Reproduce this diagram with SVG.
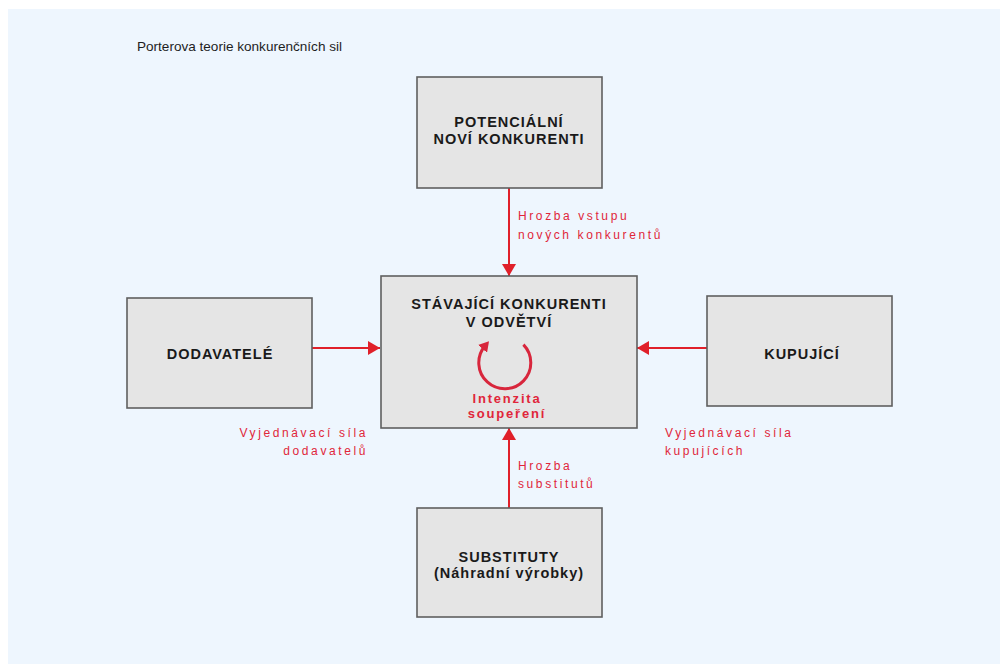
<svg xmlns="http://www.w3.org/2000/svg" width="1000" height="664" viewBox="0 0 1000 664">
  <style>
    .box { fill: #e5e5e5; stroke: #5f5f5f; stroke-width: 1.6; }
    .nt { font-family: "Liberation Sans", Arial, sans-serif; font-weight: bold; font-size: 14.5px; fill: #1a1a1a; text-anchor: middle; letter-spacing: 1px; }
    .lbl { font-family: "Liberation Sans", Arial, sans-serif; font-size: 12px; fill: #e0263a; letter-spacing: 2.6px; }
    .lblb { font-family: "Liberation Sans", Arial, sans-serif; font-weight: bold; font-size: 13px; fill: #e0263a; text-anchor: middle; letter-spacing: 1.8px; }
    .conn { stroke: #e0202a; stroke-width: 2; fill: none; marker-end: url(#ah); }
    .title { font-family: "Liberation Sans", Arial, sans-serif; font-size: 13px; fill: #1e1e1e; }
  </style>
  <defs>
    <marker id="ah" viewBox="0 0 12 14" refX="12" refY="7" markerWidth="12" markerHeight="14" markerUnits="userSpaceOnUse" orient="auto">
      <path d="M0,0 L12,7 L0,14 Z" fill="#e0202a"/>
    </marker>
    <marker id="ahc" viewBox="0 0 10 12" refX="4" refY="6" markerWidth="10" markerHeight="12" markerUnits="userSpaceOnUse" orient="auto">
      <path d="M0,0 L10,6 L0,12 Z" fill="#d8263c"/>
    </marker>
  </defs>

  <rect x="0" y="0" width="1000" height="664" fill="#ffffff"/>
  <rect x="8" y="9" width="992" height="655" fill="#eef6fe"/>

  <text class="title" x="137" y="51" textLength="205" lengthAdjust="spacingAndGlyphs">Porterova teorie konkurenčních sil</text>

  <g id="connectors">
    <line class="conn" x1="509" y1="188" x2="509" y2="276"/>
    <line class="conn" x1="312" y1="348" x2="380" y2="348"/>
    <line class="conn" x1="707" y1="348" x2="637" y2="348"/>
    <line class="conn" x1="509" y1="508" x2="509" y2="428"/>
  </g>

  <g id="potencialni">
    <rect class="box" x="417" y="77" width="185" height="111"/>
    <text class="nt" x="509" y="127">POTENCIÁLNÍ</text>
    <text class="nt" x="509" y="144">NOVÍ KONKURENTI</text>
  </g>

  <g id="stavajici">
    <rect class="box" x="381" y="276" width="256" height="152"/>
    <text class="nt" x="509" y="309">STÁVAJÍCÍ KONKURENTI</text>
    <text class="nt" x="509" y="327">V ODVĚTVÍ</text>
    <path d="M 523.4 344.6 A 26 26 0 1 1 485.1 345.8" fill="none" stroke="#d8263c" stroke-width="3" marker-end="url(#ahc)"/>
    <text class="lblb" x="507" y="403">Intenzita</text>
    <text class="lblb" x="507" y="418">soupeření</text>
  </g>

  <g id="dodavatele">
    <rect class="box" x="127" y="298" width="185" height="110"/>
    <text class="nt" x="220" y="359">DODAVATELÉ</text>
  </g>

  <g id="kupujici">
    <rect class="box" x="707" y="296" width="185" height="110"/>
    <text class="nt" x="802" y="359">KUPUJÍCÍ</text>
  </g>

  <g id="substituty">
    <rect class="box" x="417" y="508" width="185" height="109"/>
    <text class="nt" x="509" y="562">SUBSTITUTY</text>
    <text class="nt" x="509" y="578">(Náhradní výrobky)</text>
  </g>

  <g id="labels">
    <text class="lbl" x="518" y="220">Hrozba vstupu</text>
    <text class="lbl" x="518" y="239" letter-spacing="3">nových konkurentů</text>
    <text class="lbl" x="368" y="437" text-anchor="end">Vyjednávací síla</text>
    <text class="lbl" x="368" y="455" text-anchor="end">dodavatelů</text>
    <text class="lbl" x="665" y="437">Vyjednávací síla</text>
    <text class="lbl" x="665" y="455">kupujících</text>
    <text class="lbl" x="518" y="470">Hrozba</text>
    <text class="lbl" x="518" y="488">substitutů</text>
  </g>
</svg>
